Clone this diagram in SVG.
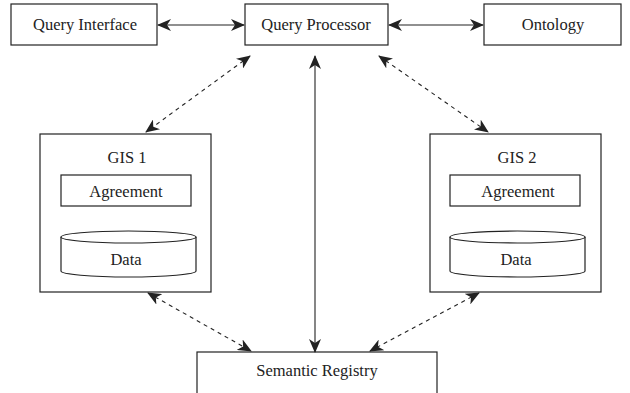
<svg xmlns="http://www.w3.org/2000/svg" width="630" height="393" viewBox="0 0 630 393">
<style>
.box{fill:#fff;stroke:#222;stroke-width:1.2}
.t{font-family:"Liberation Serif","Times New Roman",serif;font-size:16.5px;fill:#222;text-anchor:middle}
.c{fill:none;stroke:#222;stroke-width:1.1}
.d{stroke-dasharray:4 4}
</style>
<defs>
<marker id="a" viewBox="0 0 14 12" refX="13" refY="6" markerWidth="14" markerHeight="12" markerUnits="userSpaceOnUse" orient="auto-start-reverse">
<path d="M0,0 L14,6 L0,12 L4,6 z" fill="#222"/>
</marker>
</defs>
<rect width="630" height="393" fill="#fff"/>
<g id="query-interface"><rect class="box" x="11" y="4" width="146" height="41"/><text class="t" x="85" y="30">Query Interface</text></g>
<g id="query-processor"><rect class="box" x="245" y="4" width="143" height="41"/><text class="t" x="316" y="30">Query Processor</text></g>
<g id="ontology"><rect class="box" x="484" y="4" width="137" height="41"/><text class="t" x="553" y="30">Ontology</text></g>
<g id="gis1"><rect class="box" x="40" y="134" width="171" height="158"/><text class="t" x="127" y="163">GIS 1</text>
<rect class="box" x="61" y="175" width="130" height="31"/><text class="t" x="126" y="197">Agreement</text>
<path class="box" d="M61,237 L61,271 A67.5,6 0 0 0 196,271 L196,237"/><ellipse class="box" cx="128.5" cy="237" rx="67.5" ry="6"/><text class="t" x="126" y="265">Data</text></g>
<g id="gis2"><rect class="box" x="430" y="134" width="171" height="158"/><text class="t" x="517" y="163">GIS 2</text>
<rect class="box" x="450" y="175" width="130" height="31"/><text class="t" x="518" y="197">Agreement</text>
<path class="box" d="M450,237 L450,271 A67.5,6 0 0 0 585,271 L585,237"/><ellipse class="box" cx="517.5" cy="237" rx="67.5" ry="6"/><text class="t" x="516" y="265">Data</text></g>
<g id="semantic-registry"><rect class="box" x="197" y="352" width="240" height="50"/><text class="t" x="317" y="376">Semantic Registry</text></g>
<g id="connectors">
<line class="c" x1="158" y1="25" x2="244" y2="25" marker-start="url(#a)" marker-end="url(#a)"/>
<line class="c" x1="389" y1="25" x2="483" y2="25" marker-start="url(#a)" marker-end="url(#a)"/>
<line class="c" x1="315" y1="56" x2="315" y2="352" marker-start="url(#a)" marker-end="url(#a)"/>
<line class="c d" x1="250" y1="56" x2="146" y2="132" marker-start="url(#a)" marker-end="url(#a)"/>
<line class="c d" x1="379" y1="56" x2="488" y2="132" marker-start="url(#a)" marker-end="url(#a)"/>
<line class="c d" x1="148" y1="293" x2="251" y2="351" marker-start="url(#a)" marker-end="url(#a)"/>
<line class="c d" x1="479" y1="293" x2="370" y2="351" marker-start="url(#a)" marker-end="url(#a)"/>
</g>
</svg>
